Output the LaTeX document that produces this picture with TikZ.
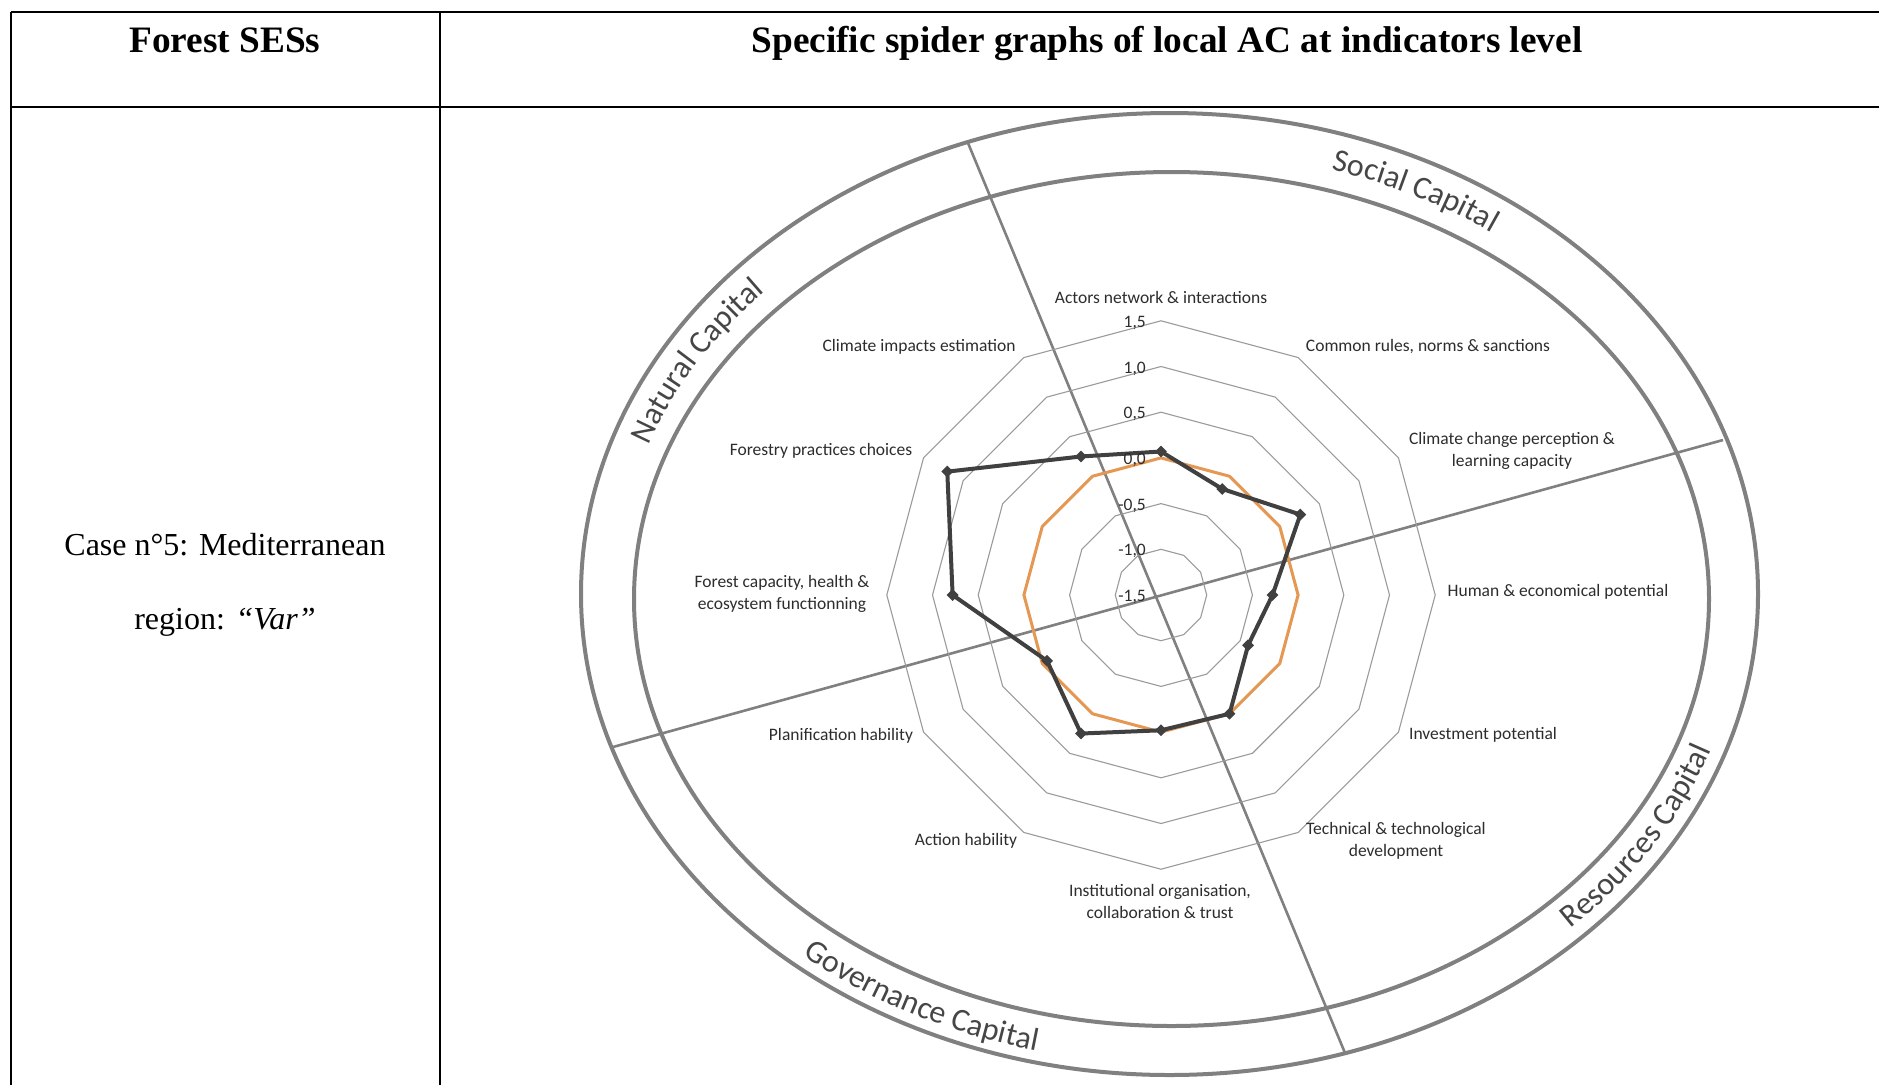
\documentclass[tikz,border=0pt]{standalone}
\usepackage{fontspec}
\setmainfont{Liberation Serif}
\newfontfamily\chartfont{Carlito}
\usetikzlibrary{decorations.text,shapes.geometric,calc}
\newcommand\curvfont{\chartfont\fontsize{32}{38}\selectfont}
\definecolor{ringgray}{RGB}{155,155,155}
\definecolor{framegray}{RGB}{128,128,128}
\definecolor{seriesdark}{RGB}{64,64,64}
\definecolor{seriesorange}{RGB}{228,152,84}
\definecolor{labelgray}{RGB}{45,45,45}
\definecolor{captext}{RGB}{70,70,70}
\begin{document}
\begin{tikzpicture}[x=1pt,y=1pt,
  tableline/.style={line width=2.6pt, black},
  ellipseline/.style={line width=4pt, framegray},
  dividerline/.style={line width=2.6pt, framegray},
  ringline/.style={line width=1.1pt, ringgray},
  darkseries/.style={line width=4pt, seriesdark, line join=round},
  orangeseries/.style={line width=3pt, seriesorange, line join=round},
  marker/.style={diamond, fill=seriesdark, inner sep=0pt, minimum size=12pt},
  axlabel/.style={font=\chartfont\fontsize{17.5}{22}\selectfont, text=labelgray, align=center, inner sep=0pt},
  ticklabel/.style={font=\chartfont\fontsize{17.5}{20}\selectfont, text=labelgray, anchor=base east, inner sep=0pt},
  headtext/.style={font=\bfseries\fontsize{37.3}{44}\selectfont, inner sep=0pt, anchor=base},
  celltext/.style={font=\fontsize{32}{38}\selectfont, inner sep=0pt, anchor=base},
]
\useasboundingbox (0,0) rectangle (1879,-1085);
\fill[white] (0,0) rectangle (1879,-1085);

% table
\draw[tableline] (11,-12) -- (1879,-12);
\draw[tableline] (11,-107) -- (1879,-107);
\draw[tableline] (11,-12) -- (11,-1085);
\draw[tableline] (440,-12) -- (440,-1085);
\node[headtext] (hforest) at (225,-52) {Forest SESs};
\node[headtext] (hspider) at (1167,-52) {Specific spider graphs of local AC at indicators level};
\node[celltext] (case1) at (225,-555) {Case n°5: Mediterranean};
\node[celltext] (case2) at (225,-629) {region: \textit{“Var”}};

% frame ellipses
\draw[ellipseline] (1169.5,-594) ellipse[x radius=588.5, y radius=481];
\draw[ellipseline] (1171.5,-599) ellipse[x radius=537.5, y radius=427];

% dividers
\coordinate (dA1) at (968,-143);
\coordinate (dA2) at (1345,-1053);
\coordinate (dB1) at (613,-747);
\coordinate (dB2) at (1723,-440);
\draw[dividerline] (dA1) -- (dA2);
\draw[dividerline] (dB1) -- (dB2);

% curved capital labels
\coordinate (mc) at (1170.5,-596.5);
\path[decorate, decoration={text along path, text={|\curvfont|Social Capital}, text align=center, text color=captext}]
  ($(mc)+(83.5:555 and 446)$) arc[start angle=83.5, end angle=43.5, x radius=555, y radius=446];
\path[decorate, decoration={text along path, text={|\curvfont|Natural Capital}, text align=center, text color=captext}]
  ($(mc)+(169:555 and 446)$) arc[start angle=169, end angle=129, x radius=555, y radius=446];
\path[decorate, decoration={text along path, text={|\curvfont|Resources Capital}, text align=center, text color=captext}]
  ($(mc)+(-54:573 and 464)$) arc[start angle=-54, end angle=-10, x radius=573, y radius=464];
\path[decorate, decoration={text along path, text={|\curvfont|Governance Capital}, text align=center, text color=captext}]
  ($(mc)+(221:575 and 467)$) arc[start angle=221, end angle=265, x radius=575, y radius=467];

% spider chart
\begin{scope}[shift={(1161,-595)}]
  \foreach \v in {-1.0,-0.5,0.0,0.5,1.0,1.5}{
    \pgfmathsetmacro\r{(\v+1.5)*91.4}
    \draw[ringline] (90:\r) -- (60:\r) -- (30:\r) -- (0:\r) -- (-30:\r) -- (-60:\r) -- (-90:\r)
      -- (-120:\r) -- (-150:\r) -- (180:\r) -- (150:\r) -- (120:\r) -- cycle;
  }
  \foreach \a [count=\i] in {90,60,30,0,-30,-60,-90,-120,-150,-180,-210,-240}{
    \coordinate (o\i) at (\a:137.1);
  }
  \foreach \a/\v [count=\i] in {90/0.07,60/-0.16,30/0.26,0/-0.28,-30/-0.4,-60/0.0,-90/-0.02,-120/0.25,-150/-0.06,-180/0.78,-210/1.2,-240/0.25}{
    \coordinate (d\i) at (\a:{(\v+1.5)*91.4});
  }
\end{scope}
\draw[orangeseries] (o1) -- (o2) -- (o3) -- (o4) -- (o5) -- (o6) -- (o7) -- (o8) -- (o9) -- (o10) -- (o11) -- (o12) -- cycle;
\draw[darkseries] (d1) -- (d2) -- (d3) -- (d4) -- (d5) -- (d6) -- (d7) -- (d8) -- (d9) -- (d10) -- (d11) -- (d12) -- cycle;
\foreach \i in {1,...,12}{\node[marker] (m\i) at (d\i) {};}

% tick labels
\node[ticklabel] (t1) at (1146,-327) {1,5};
\node[ticklabel] (t2) at (1146,-373) {1,0};
\node[ticklabel] (t3) at (1146,-418.5) {0,5};
\node[ticklabel] (t4) at (1146,-464) {0,0};
\node[ticklabel] (t5) at (1146,-510) {-0,5};
\node[ticklabel] (t6) at (1146,-555.5) {-1,0};
\node[ticklabel] (t7) at (1146,-601) {-1,5};

% axis labels
\node[axlabel] (l1) at (1161,-297) {Actors network \& interactions};
\node[axlabel] (l2) at (1428,-347) {Common rules, norms \& sanctions};
\node[axlabel] (l3) at (1512,-451) {Climate change perception \&\\learning capacity};
\node[axlabel] (l4) at (1558,-592) {Human \& economical potential};
\node[axlabel] (l5) at (1483,-735) {Investment potential};
\node[axlabel] (l6) at (1396,-841) {Technical \& technological\\development};
\node[axlabel] (l7) at (1160,-901) {Institutional organisation,\\collaboration \& trust};
\node[axlabel] (l8) at (966,-841) {Action hability};
\node[axlabel] (l9) at (841,-736) {Planification hability};
\node[axlabel] (l10) at (782,-594) {Forest capacity, health \&\\ecosystem functionning};
\node[axlabel] (l11) at (821,-451) {Forestry practices choices};
\node[axlabel] (l12) at (919,-347) {Climate impacts estimation};
\end{tikzpicture}
\end{document}
